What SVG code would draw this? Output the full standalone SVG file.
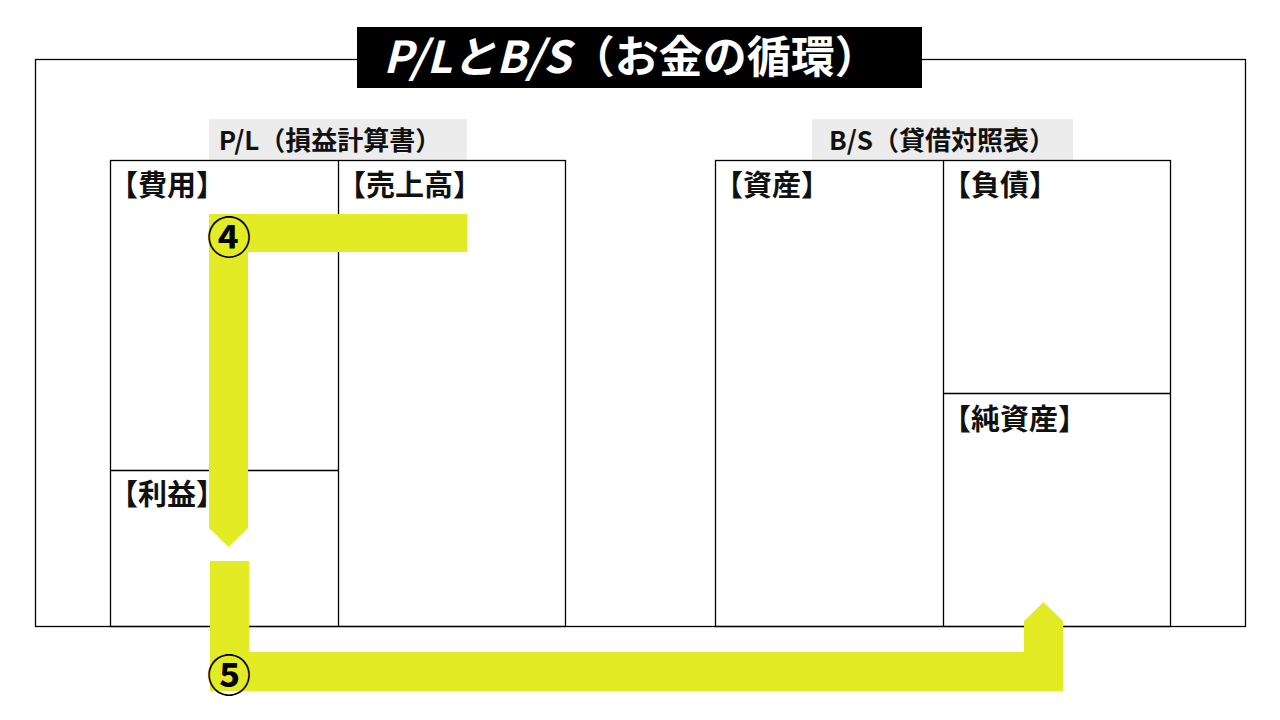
<svg xmlns="http://www.w3.org/2000/svg" width="1280" height="720" viewBox="0 0 1280 720">
<style>
.ln{fill:none;stroke:#000;stroke-width:1.3}
.lbl{font-family:"Noto Sans CJK JP","Noto Sans",sans-serif;font-weight:bold;font-size:29px;fill:#111}
.hdr{font-family:"Noto Sans CJK JP","Noto Sans",sans-serif;font-weight:bold;font-size:26px;fill:#111}
.hbg{fill:#ececec}
.arr{fill:#e3eb24}
.num{font-family:"Noto Sans CJK JP","Noto Sans",sans-serif;font-weight:bold;font-size:44px;fill:#000}
</style>
<rect width="1280" height="720" fill="#fff"/>
<g id="frame">
<rect class="ln" x="35.5" y="59.5" width="1210" height="567"/>
</g>
<g id="title">
<rect x="357" y="27" width="565" height="61" fill="#000"/>
<text x="631" y="73" text-anchor="middle" font-family="'Noto Sans CJK JP','Noto Sans',sans-serif" font-weight="bold" font-size="44" fill="#fff"><tspan font-style="italic">P/LとB/S</tspan>（お金の循環）</text>
</g>
<g id="pl">
<rect class="hbg" x="209" y="119" width="258" height="41"/>
<text class="hdr" x="330" y="150" text-anchor="middle">P/L（損益計算書）</text>
<rect class="ln" x="110.5" y="160.5" width="455" height="466"/>
<line class="ln" x1="338.5" y1="160" x2="338.5" y2="626"/>
<line class="ln" x1="110" y1="470.5" x2="338" y2="470.5"/>
</g>
<g id="bs">
<rect class="hbg" x="812" y="119" width="261" height="41"/>
<text class="hdr" x="942" y="150" text-anchor="middle">B/S（貸借対照表）</text>
<rect class="ln" x="715.5" y="160.5" width="455" height="466"/>
<line class="ln" x1="943.5" y1="160" x2="943.5" y2="626"/>
<line class="ln" x1="943" y1="393.5" x2="1170" y2="393.5"/>
</g>
<g id="connectors">
<path class="arr" d="M209 214 H467 V252 H248 V528 L228.5 547 L209 528 Z"/>
<path class="arr" d="M210 561 H249 V652 H1024 V621 L1043.5 602 L1063 621 V691 H210 Z"/>
</g>
<g id="labels">
<text class="lbl" x="109" y="196">【費用】</text>
<text class="lbl" x="337" y="196">【売上高】</text>
<text class="lbl" x="109" y="505">【利益】</text>
<text class="lbl" x="714" y="196">【資産】</text>
<text class="lbl" x="942" y="196">【負債】</text>
<text class="lbl" x="942" y="430">【純資産】</text>
</g>
<g id="num4"><text class="num" x="229" y="254" text-anchor="middle">④</text></g>
<g id="num5"><text class="num" x="229" y="692" text-anchor="middle">⑤</text></g>
</svg>
